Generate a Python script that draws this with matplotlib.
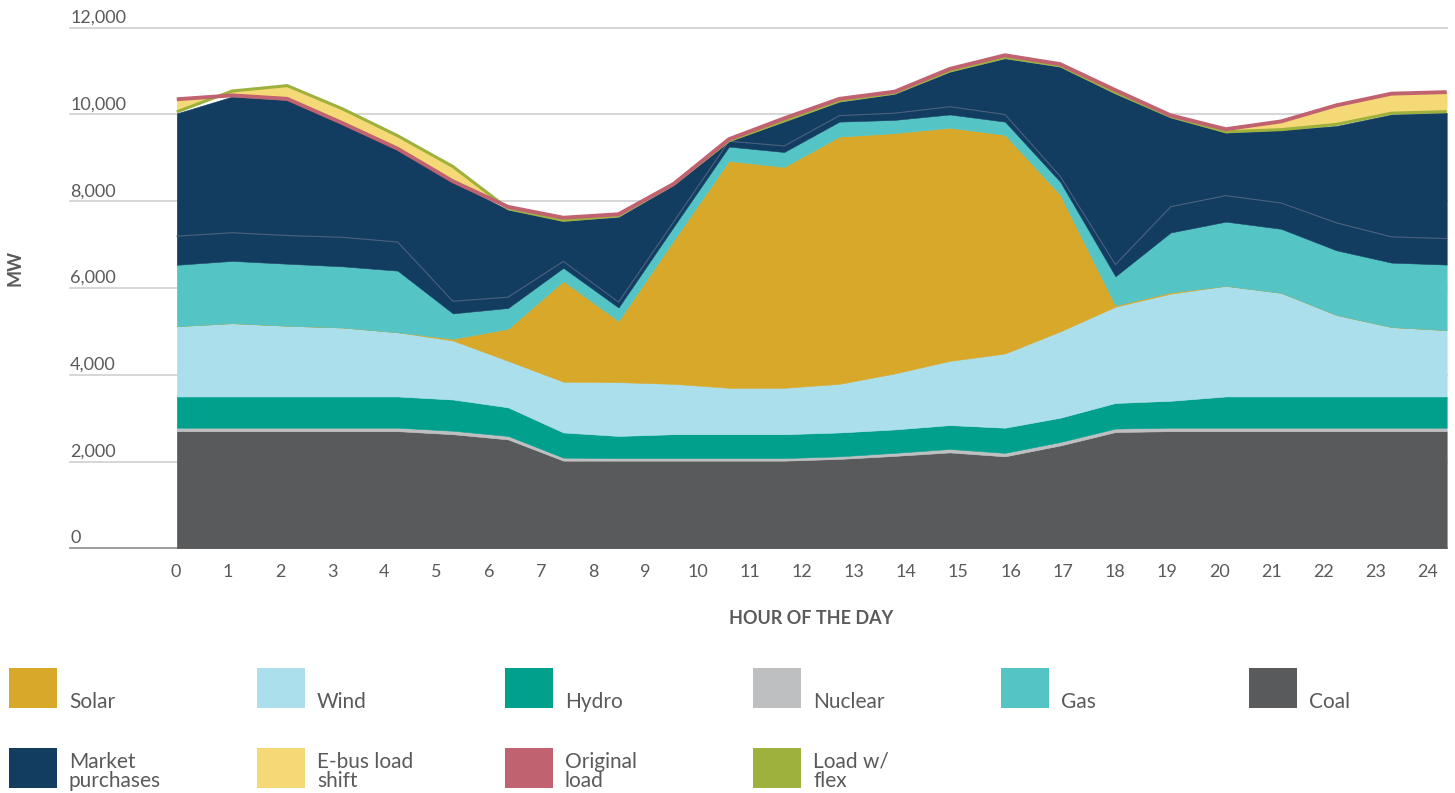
import numpy as np
import matplotlib
matplotlib.use("Agg")
import matplotlib.pyplot as plt
from matplotlib.patches import Rectangle

# ---------------- data (MW) ----------------
hours = list(range(24))
coal = [2700, 2700, 2700, 2700, 2700, 2630, 2510, 2020, 2020, 2020, 2020, 2020,
        2060, 2130, 2210, 2120, 2370, 2680, 2700, 2700, 2700, 2700, 2700, 2700]
nuclear = [80, 80, 80, 80, 80, 80, 80, 70, 60, 60, 60, 60,
           60, 70, 80, 80, 80, 80, 80, 80, 80, 80, 80, 80]
hydro = [720, 720, 720, 720, 720, 720, 660, 580, 510, 550, 550, 550,
         550, 540, 550, 580, 560, 590, 620, 720, 720, 720, 720, 720]
wind = [1620, 1690, 1630, 1590, 1480, 1360, 1070, 1170, 1240, 1160, 1070, 1070,
        1120, 1290, 1480, 1710, 1990, 2220, 2470, 2550, 2390, 1880, 1600, 1530]
solar = [0, 0, 0, 0, 0, 40, 740, 2320, 1410, 3310, 5230, 5090,
         5700, 5540, 5375, 5040, 3150, 30, 30, 0, 0, 0, 0, 0]
gas = [1415, 1435, 1430, 1410, 1420, 585, 480, 305, 310, 315, 330, 345,
       345, 305, 305, 305, 300, 670, 1380, 1480, 1475, 1490, 1485, 1510]
market_purchases_1 = [660, 650, 650, 670, 660, 280, 250, 150, 125, 115, 125, 140,
                      140, 155, 180, 165, 125, 270, 595, 600, 595, 635, 595, 600]
market_purchases_2 = [2830, 3135, 3120, 2620, 2130, 2755, 2010, 930, 1960, 840, 0, 555,
                      315, 440, 800, 1290, 2520, 3940, 2050, 1450, 1680, 2230, 2820, 2900]
original_load = [10350, 10440, 10360, 9800, 9210, 8460, 7870, 7620, 7700, 8400, 9430, 9910,
                 10360, 10525, 11050, 11365, 11160, 10560, 9980, 9660, 9840, 10210, 10480, 10515]
load_w_flex = [10060, 10540, 10665, 10130, 9510, 8800, 7830, 7560, 7665, 8395, 9395, 9855,
               10315, 10495, 11005, 11315, 11125, 10505, 9955, 9600, 9650, 9770, 10030, 10065]

x_tick_labels = [str(h) for h in range(25)]
y_ticks = [0, 2000, 4000, 6000, 8000, 10000, 12000]
legend_labels = ["Solar", "Wind", "Hydro", "Nuclear", "Gas", "Coal",
                 "Market\npurchases", "E-bus load\nshift", "Original\nload", "Load w/\nflex"]

# ---------------- style ----------------
C_SOLAR = "#D7A82A"
C_WIND = "#ABDFEC"
C_HYDRO = "#00A08D"
C_NUCLEAR = "#BEBFC1"
C_GAS = "#54C4C4"
C_COAL = "#595A5C"
C_MARKET = "#133C61"
C_EBUS = "#F6D977"
C_ORIG = "#C06270"
C_FLEX = "#9DB13C"
TXT = "#5A5A5A"
legend_colors = [C_SOLAR, C_WIND, C_HYDRO, C_NUCLEAR, C_GAS, C_COAL,
                 C_MARKET, C_EBUS, C_ORIG, C_FLEX]

plt.rcParams['font.family'] = ['Lato', 'DejaVu Sans']

W, H = 1455, 793
fig = plt.figure(figsize=(W / 100, H / 100), dpi=100)
L, R, T, B = 175.7, 1446.7, 27.7, 548.3
ax = fig.add_axes([L / W, 1 - B / H, (R - L) / W, (B - T) / H])

x = np.array(hours, dtype=float)
layers = [coal, nuclear, hydro, wind, solar, gas, market_purchases_1, market_purchases_2]
layer_colors = [C_COAL, C_NUCLEAR, C_HYDRO, C_WIND, C_SOLAR, C_GAS, C_MARKET, C_MARKET]
cum = np.cumsum(np.array(layers, dtype=float), axis=0)
base = np.zeros_like(x)
for top, col in zip(cum, layer_colors):
    ax.fill_between(x, base, top, facecolor=col, edgecolor=col, lw=0.4, zorder=2)
    base = top
# thin divider inside market purchases
ax.plot(x, cum[6], color="#4F6480", lw=0.7, zorder=3)

# load lines and e-bus shift band
ax.fill_between(x, original_load, load_w_flex, facecolor=C_EBUS, edgecolor=C_EBUS, lw=0.3, zorder=4)
ax.plot(x, load_w_flex, color=C_FLEX, lw=2.2, solid_capstyle='butt', zorder=5)
ax.plot(x, original_load, color=C_ORIG, lw=2.8, solid_capstyle='butt', zorder=6)

ax.set_xlim(0, 23)
ax.set_ylim(0, 12000)
for s in ax.spines.values():
    s.set_visible(False)

# gridlines extending to the left under the labels
px_per_x = (R - L) / 23.0
x_left = (69 - L) / px_per_x
for v in y_ticks:
    if v == 0:
        ax.plot([x_left, 23], [v, v], color="#8C8C8C", lw=1.2, clip_on=False, zorder=1)
    else:
        ax.plot([x_left, 23], [v, v], color="#D3D3D3", lw=1.3, clip_on=False, zorder=1)
    ax.text(x_left, v + 115, f"{v:,}", ha='left', va='baseline', fontsize=13,
            color=TXT, clip_on=False)

ax.set_yticks([])
tick_pos = np.arange(25) * 0.945 - 0.02
ax.set_xticks(tick_pos)
ax.set_xticklabels(x_tick_labels, fontsize=13, color=TXT)
ax.tick_params(axis='x', length=0, pad=11)

fig.text(811 / W, 1 - 619 / H, "HOUR OF THE DAY", ha='center', va='center',
         fontsize=13, fontweight='bold', color=TXT)
fig.text(15 / W, 1 - 268 / H, "MW", ha='center', va='center', rotation=90,
         fontsize=13, fontweight='bold', color=TXT)

# legend (manual grid)
for i, (lab, col) in enumerate(zip(legend_labels, legend_colors)):
    row, c = divmod(i, 6)
    x0 = 9 + 248 * c
    ytop = 668 + 80 * row
    fig.patches.append(Rectangle((x0 / W, 1 - (ytop + 40) / H), 48 / W, 40 / H,
                                 transform=fig.transFigure, facecolor=col, edgecolor='none'))
    lines = lab.split("\n")
    if len(lines) == 1:
        fig.text((x0 + 60) / W, 1 - (ytop + 40) / H, lines[0], ha='left', va='baseline',
                 fontsize=15, color=TXT)
    else:
        fig.text((x0 + 60) / W, 1 - (ytop + 19.5) / H, lines[0], ha='left', va='baseline',
                 fontsize=15, color=TXT)
        fig.text((x0 + 60) / W, 1 - (ytop + 39) / H, lines[1], ha='left', va='baseline',
                 fontsize=15, color=TXT)

fig.savefig("out.png", dpi=100)
